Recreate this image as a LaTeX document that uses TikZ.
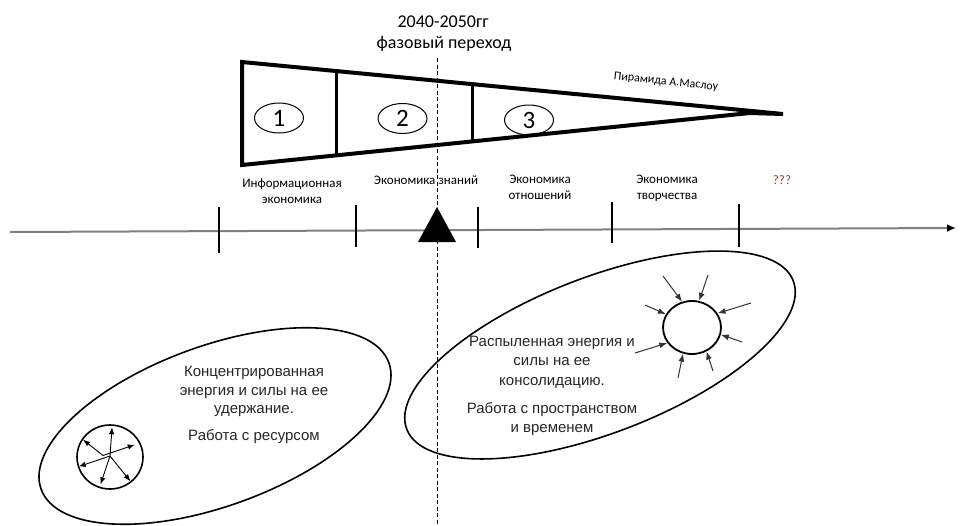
\documentclass[tikz,border=0pt]{standalone}
\usepackage{fontspec}
\setmainfont{Carlito}
\newfontfamily\arialf{Liberation Sans}
\usetikzlibrary{arrows.meta,shapes.geometric}
\newcommand{\mlines}[1]{\begin{tabular}[t]{@{}c@{}}#1\end{tabular}}
\definecolor{axisgray}{RGB}{128,128,128}
\definecolor{qbrown}{RGB}{140,70,40}
\begin{document}
\begin{tikzpicture}[x=1pt,y=-1pt,
  pyr/.style={line width=4pt, line join=miter},
  divider/.style={line width=3pt},
  numell/.style={ellipse, draw, line width=1pt, minimum width=49pt, minimum height=30pt, inner sep=0pt, font=\fontsize{25}{27}\selectfont},
  title/.style={font=\fontsize{18}{21}\selectfont, inner sep=0pt, anchor=base},
  lbl/.style={font=\fontsize{13}{16.5}\selectfont, inner sep=0pt, anchor=base},
  body/.style={font=\arialf\fontsize{15}{18.5}\selectfont, inner sep=0pt, anchor=base, text=black!85},
  bigell/.style={ellipse, draw, line width=1.6pt, inner sep=0pt},
  ticks/.style={line width=2.5pt},
  arr/.style={-{Latex[length=7pt,width=5.5pt]}, line width=0.9pt},
  inarr/.style={-{Latex[length=8pt,width=6pt]}, line width=1pt, black!80},
  phase/.style={line width=0.8pt, dash pattern=on 4pt off 2.5pt},
]
\useasboundingbox (0,0) rectangle (965,525);

% big ellipses
\node[bigell, minimum width=370pt, minimum height=160pt, rotate=20] (le) at (215,426) {};
\node[bigell, minimum width=414pt, minimum height=156pt, rotate=21] (re) at (600,355) {};

% phase line
\coordinate (ph1) at (437,58);
\coordinate (ph2) at (437,525);
\draw[phase] (ph1) -- (ph2);

% title
\node[title] (t1) at (443,27) {2040-2050гг};
\node[title] (t2) at (444,48) {фазовый переход};

% pyramid
\draw[pyr] (242,62) -- (783,114) -- (750,113) -- (242,165) -- cycle;
\draw[divider] (336,71) -- (336,155.4);
\draw[divider] (472,84.1) -- (472,141.5);
\node[numell] (n1) at (279,118) {1};
\node[numell] (n2) at (402.5,118.5) {2};
\node[numell] (n3) at (529,120) {3};
\node[font=\fontsize{12}{14}\selectfont, rotate=-6, inner sep=0pt] (pm) at (666,82) {Пирамида А.Маслоу};

% labels
\node[lbl] (l1) at (292,187) {\mlines{Информационная\\экономика}};
\node[lbl] (l2) at (426,184) {Экономика знаний};
\node[lbl] (l3) at (540,183) {\mlines{Экономика\\отношений}};
\node[lbl] (l4) at (667,183) {\mlines{Экономика\\творчества}};
\node[lbl, text=qbrown] (l5) at (782,184) {???};

% axis
\coordinate (axL) at (10,232);
\coordinate (axR) at (956,228);
\draw[axisgray, line width=2pt, -{Latex[length=9pt,width=8pt,color=black]}] (axL) -- (axR);
\draw[ticks] (219,207) -- (219,253);
\draw[ticks] (356,205) -- (356,247);
\draw[ticks] (478,207) -- (478,248);
\draw[ticks] (612,202) -- (612,243);
\draw[ticks] (739,204) -- (739,247);
\fill (437,207) -- (456,242) -- (418,242) -- cycle;

% body texts
\node[body] (bl) at (254,376.7) {\mlines{Концентрированная\\энергия и силы на ее\\удержание.\\[8.5pt]Работа с ресурсом}};
\node[body, font=\arialf\fontsize{15}{19.3}\selectfont] (br) at (552,346.6) {\mlines{Распыленная энергия и\\силы на ее\\консолидацию.\\[8.5pt]Работа с пространством\\и временем}};

% left circle with outward arrows
\node[ellipse, draw, line width=1.6pt, minimum width=66pt, minimum height=64pt, inner sep=0pt] (lc) at (110,457) {};
\coordinate (c1) at (103,455.5);
\coordinate (c2) at (110,456);
\draw[arr, shorten >=3pt] (c2) -- (lc.86);
\draw[arr, shorten >=1.5pt] (c1) -- (lc.147);
\draw[arr, shorten >=6pt] (c1) -- (lc.25);
\draw[arr, shorten >=1pt] (c2) -- (lc.197);
\draw[arr, shorten >=4pt] (c2) -- (lc.251);
\draw[arr, shorten >=1.5pt] (c2) -- (lc.310);

% right circle with inward arrows
\node[ellipse, draw, line width=1.8pt, minimum width=58pt, minimum height=53pt, inner sep=0pt] (rc) at (692,327.5) {};
\coordinate (s1) at (663,276);
\coordinate (s2) at (708,275);
\coordinate (s3) at (645,305);
\coordinate (s4) at (751,303);
\coordinate (s5) at (635,353);
\coordinate (s6) at (742,342);
\coordinate (s7) at (678,378);
\coordinate (s8) at (713,371);
\draw[inarr] (s1) -- (rc.111);
\draw[inarr] (s2) -- (rc.75);
\draw[inarr] (s3) -- (rc.153);
\draw[inarr] (s4) -- (rc.29);
\draw[inarr] (s5) -- (rc.212);
\draw[inarr] (s6) -- (rc.346);
\draw[inarr] (s7) -- (rc.251);
\draw[inarr] (s8) -- (rc.301);
\end{tikzpicture}
\end{document}
